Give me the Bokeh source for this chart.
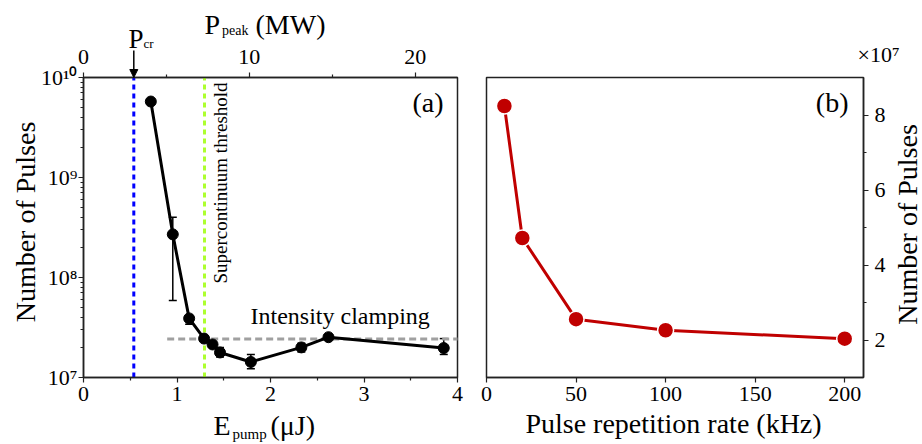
import math
from bokeh.plotting import figure
from bokeh.models import (Range1d, LinearAxis, LogAxis, FixedTicker, Label, Arrow, NormalHead,
                          Whisker, TeeHead, ColumnDataSource)
from bokeh.layouts import row
from bokeh.embed import file_html
from bokeh.resources import INLINE

# ---------------- data: panel (a) ----------------
e_pump = [0.72, 0.955, 1.13, 1.29, 1.38, 1.46, 1.79, 2.33, 2.62, 3.853]
n_pulses = [5.75e9, 2.7e8, 3.9e7, 2.45e7, 2.14e7, 1.78e7, 1.43e7, 2.0e7, 2.53e7, 1.97e7]
n_upper = [5.75e9, 4.0e8, 4.2e7, 2.55e7, 2.25e7, 2.0e7, 1.7e7, 2.2e7, 2.65e7, 2.45e7]
n_lower = [5.75e9, 5.9e7, 3.4e7, 2.35e7, 2.05e7, 1.6e7, 1.22e7, 1.8e7, 2.42e7, 1.7e7]
clamp_e = [0.895, 4.0]
clamp_n = [2.42e7, 2.42e7]
e_cr = 0.538          # critical power (blue dotted line, arrow)
e_sc = 1.294          # supercontinuum threshold (green dotted line)
e_min, e_max = 0, 4
n_min, n_max = 1e7, 1e10
e_ticks = [0, 1, 2, 3, 4]
e_minor = [0.5, 1.5, 2.5, 3.5]
p_max = 22.55         # peak power (MW) at e_max
p_ticks = [0, 10, 20]
p_minor = [5, 15]
n_ticks = [10**7, 10**8, 10**9, 10**10]
n_tick_labels = ["10\u2077", "10\u2078", "10\u2079", "10\u00b9\u2070"]

# ---------------- data: panel (b) ----------------
rep_rate = [10, 20, 50, 100, 200]
n_pulses_b = [8.24, 4.72, 2.556, 2.26, 2.035]   # x 10^7
b_x_min, b_x_max = 0, 210.5
b_y_min, b_y_max = 1, 9
rate_ticks = [0, 50, 100, 150, 200]
nb_ticks = [2, 4, 6, 8]
nb_minor = [3, 5, 7]

# ---------------- layout (page pixels) ----------------
H = 444
WA, WB = 470, 452
BOX_A = dict(l=83, r=457, t=77, b=377)
BOX_B = dict(l=486, r=863, t=77, b=377)
FONT = "Liberation Serif"
AX = "#222222"
BASE_SHIFT = 0.3   # em correction for alphabetic baseline

# panel (a) ranges so that the data box lands on BOX_A
kx = (BOX_A["r"] - BOX_A["l"]) / (e_max - e_min)
xa0 = e_min - BOX_A["l"] / kx
xa1 = e_max + (WA - BOX_A["r"]) / kx
ky = (BOX_A["b"] - BOX_A["t"]) / (math.log10(n_max) - math.log10(n_min))
ya0 = 10 ** (math.log10(n_min) - (H - BOX_A["b"]) / ky)
ya1 = 10 ** (math.log10(n_max) + BOX_A["t"] / ky)
p_per_e = p_max / e_max

# panel (b) ranges
kxb = (BOX_B["r"] - BOX_B["l"]) / (b_x_max - b_x_min)
xb0 = b_x_min - (BOX_B["l"] - WA) / kxb
xb1 = b_x_max + (WA + WB - BOX_B["r"]) / kxb
kyb = (BOX_B["b"] - BOX_B["t"]) / (b_y_max - b_y_min)
yb0 = b_y_min - (H - BOX_B["b"]) / kyb
yb1 = b_y_max + BOX_B["t"] / kyb


def style_axis(ax, standoff=4):
    ax.major_label_text_font = FONT
    ax.major_label_text_font_size = "22px"
    ax.major_label_text_color = "black"
    ax.major_label_standoff = standoff
    ax.axis_line_color = AX
    ax.axis_line_width = 1.5
    ax.major_tick_line_color = AX
    ax.minor_tick_line_color = AX
    ax.major_tick_line_width = 1.2
    ax.minor_tick_line_width = 1.2
    ax.major_tick_in = 0
    ax.major_tick_out = 5
    ax.minor_tick_in = 0
    ax.minor_tick_out = 3


def lab(p, fig_left, px, py, text, size, align="left", vertical=False):
    shift = BASE_SHIFT * size
    if vertical:
        sx, sy, ang = px - fig_left - shift, H - py, math.pi / 2
    else:
        sx, sy, ang = px - fig_left, H - (py - shift), 0.0
    p.add_layout(Label(x=sx, y=sy, x_units="screen", y_units="screen", text=text,
                       text_font=FONT, text_font_size=f"{size}px", text_color="black",
                       text_align=align, text_baseline="alphabetic", angle=ang))


def base_fig(w, xr, yr, ytype="linear"):
    p = figure(width=w, height=H, x_range=xr, y_range=yr, y_axis_type=ytype,
               x_axis_location=None, y_axis_location=None, min_border=0,
               min_border_left=0, min_border_right=0, min_border_top=0, min_border_bottom=0,
               output_backend="svg", toolbar_location=None)
    p.xgrid.visible = False
    p.ygrid.visible = False
    p.outline_line_color = None
    p.background_fill_color = "white"
    p.border_fill_color = "white"
    return p


# ================= panel (a) =================
pa = base_fig(WA, Range1d(xa0, xa1), Range1d(ya0, ya1), "log")
pa.extra_x_ranges = {"peak": Range1d(xa0 * p_per_e, xa1 * p_per_e)}

pa.quad(left=[e_min], right=[e_max], bottom=[n_min], top=[n_max], fill_color=None,
        line_color=AX, line_width=1.5)

ax_bot = LinearAxis(fixed_location=n_min, bounds=(e_min, e_max),
                    ticker=FixedTicker(ticks=e_ticks, minor_ticks=e_minor))
style_axis(ax_bot, standoff=4)
pa.add_layout(ax_bot, "below")

ax_left = LogAxis(fixed_location=e_min, bounds=(n_min, n_max),
                  ticker=FixedTicker(ticks=n_ticks, minor_ticks=[k * 10**d for d in (7, 8, 9)
                                                                 for k in range(2, 10)]))
ax_left.major_label_overrides = dict(zip(n_ticks, n_tick_labels))
style_axis(ax_left, standoff=1)
pa.add_layout(ax_left, "left")

ax_top = LinearAxis(x_range_name="peak", fixed_location=n_max, bounds=(0, p_max),
                    ticker=FixedTicker(ticks=p_ticks, minor_ticks=p_minor))
style_axis(ax_top, standoff=9)
pa.add_layout(ax_top, "above")

pa.segment(x0=[e_cr], y0=[n_min], x1=[e_cr], y1=[n_max], line_color="#0000ff",
           line_width=3, line_dash="5 4")
pa.segment(x0=[e_sc], y0=[n_min], x1=[e_sc], y1=[n_max], line_color="#adff2f",
           line_width=3, line_dash="5 4")
pa.line(clamp_e, clamp_n, line_color="#a0a0a0", line_width=3, line_dash="7 4")

src = ColumnDataSource(dict(e=e_pump, n=n_pulses, up=n_upper, lo=n_lower))
pa.add_layout(Whisker(base="e", upper="up", lower="lo", source=src, dimension="height",
                      line_color="black", line_width=1.5,
                      upper_head=TeeHead(size=8, line_width=1.5, line_color="black"),
                      lower_head=TeeHead(size=8, line_width=1.5, line_color="black")))
pa.line("e", "n", source=src, line_color="black", line_width=3)
pa.scatter("e", "n", source=src, size=11, fill_color="black", line_color="black")

pa.add_layout(Arrow(end=NormalHead(size=8, fill_color="black", line_color="black",
                                   line_width=1),
                    x_start=e_cr, y_start=n_max * 10**0.27, x_end=e_cr, y_end=n_max,
                    line_color="black", line_width=1.5))

# texts (a)  (page x, page baseline y)
lab(pa, 0, 204, 32, "P", 28)
lab(pa, 0, 221.5, 34, "peak", 14)
lab(pa, 0, 255, 32, "(MW)", 28)
lab(pa, 0, 128, 46.5, "P", 27)
lab(pa, 0, 143, 47, "cr", 13)
lab(pa, 0, 443, 110, "(a)", 28, align="right")
lab(pa, 0, 250, 323, "Intensity clamping", 24)
lab(pa, 0, 225.5, 283, "Supercontinuum threshold", 19, vertical=True)
lab(pa, 0, 213, 433, "E", 28)
lab(pa, 0, 232, 437.5, "pump", 15)
lab(pa, 0, 270, 433, "(\u03bcJ)", 28)
lab(pa, 0, 33, 221.5, "Number of Pulses", 28, align="center", vertical=True)

# ================= panel (b) =================
pb = base_fig(WB, Range1d(xb0, xb1), Range1d(yb0, yb1))
pb.quad(left=[b_x_min], right=[b_x_max], bottom=[b_y_min], top=[b_y_max], fill_color=None,
        line_color=AX, line_width=1.5)

bx = LinearAxis(fixed_location=b_y_min, bounds=(b_x_min, b_x_max),
                ticker=FixedTicker(ticks=rate_ticks, minor_ticks=[]))
style_axis(bx, standoff=4)
pb.add_layout(bx, "below")

by = LinearAxis(fixed_location=b_x_max, bounds=(b_y_min, b_y_max),
                ticker=FixedTicker(ticks=nb_ticks, minor_ticks=nb_minor))
style_axis(by, standoff=6)
pb.add_layout(by, "right")

pb.line(rep_rate, n_pulses_b, line_color="#c00000", line_width=3)
pb.scatter(rep_rate, n_pulses_b, size=16, fill_color="#c00000", line_color="white",
           line_width=1.5)

lab(pb, WA, 848, 110, "(b)", 28, align="right")
lab(pb, WA, 857, 61, "\u00d710\u2077", 22)
lab(pb, WA, 673, 431, "Pulse repetition rate (kHz)", 28, align="center")
lab(pb, WA, 915, 224, "Number of Pulses", 28, align="center", vertical=True)

layout = row(pa, pb)
open("out.html", "w").write(file_html(layout, INLINE))
